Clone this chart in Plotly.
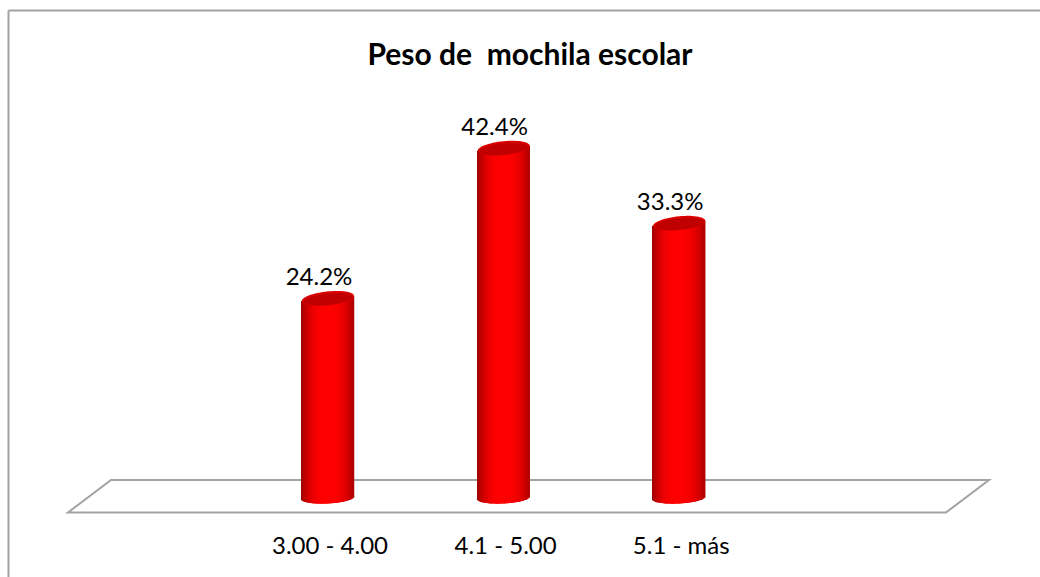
import numpy as np
import plotly.graph_objects as go

# Weight of school backpacks, share of pupils per weight band
categories = ["3.00 - 4.00", "4.1 - 5.00", "5.1 - más"]
percent_values = [24.2, 42.4, 33.3]
percent_labels = ["24.2%", "42.4%", "33.3%"]

FIG_W, FIG_H = 1040, 577
BASELINE_PX = 498     # screen row of the zero level
M_L, M_R, M_B = 68, 94, 64
PLOT_W = FIG_W - M_L - M_R
PLOT_H = FIG_H - M_B
X_PX = 175.6          # pixels per category slot
Y_PX = 8.25           # pixels per percentage point
FIRST_BAR_PX = 328
BAR_W_PX = 52
STRIP_PX = 1
CAP_SEMI_Y = 7.0
CAP_TILT = 2.5
X0 = -(FIRST_BAR_PX - M_L) / X_PX
X1 = X0 + PLOT_W / X_PX
Y0 = -(FIG_H - M_B - BASELINE_PX) / Y_PX
Y1 = Y0 + PLOT_H / Y_PX
GRAY = "#a3a3a3"
FONT = "Lato"


def paper_x(px):
    return (px - M_L) / PLOT_W


def paper_y(py):
    return (FIG_H - M_B - py) / PLOT_H


def strip_colour(u):
    # darkens towards both edges of the cylinder
    k = abs(u) ** 2.6
    left = 1.25 if u < 0 else 1.0
    r = int(255 - 80 * k * left)
    return f"rgb({max(r, 150)},0,0)"


def ellipse_path(cx, cy_value, semi_x_px, semi_y_px, tilt_px, dy_px=0.0):
    pts = []
    for t in np.linspace(0, 2 * np.pi, 61):
        u = np.cos(t)
        v = np.sin(t)
        xd = cx + semi_x_px * u / X_PX
        yd = cy_value + (semi_y_px * v + tilt_px * u + dy_px) / Y_PX
        pts.append(f"{xd:.5f},{yd:.4f}")
    return "M" + " L".join(pts) + " Z"


fig = go.Figure()
shapes = []

# Each cylinder body is a fan of thin bars; bases follow the lower rim,
# tops follow the tilted axis of the cap
n_strips = BAR_W_PX // STRIP_PX
offsets = (np.arange(n_strips) + 0.5) / n_strips * 2 - 1
for i, value in enumerate(percent_values):
    xs = i + offsets * (BAR_W_PX / 2) / X_PX
    bases = (-5.5 * np.sqrt(1 - offsets ** 2) + 1.3 * offsets) / Y_PX
    tops = value + CAP_TILT * offsets / Y_PX
    fig.add_trace(go.Bar(
        x=xs,
        y=tops - bases,
        base=bases,
        width=(STRIP_PX + 0.5) / X_PX,
        marker=dict(color=[strip_colour(u) for u in offsets], line=dict(width=0)),
        cliponaxis=False,
        showlegend=False,
        hoverinfo="skip",
    ))
    # top cap: lighter rim with the darker recessed face
    shapes.append(dict(type="path", xref="x", yref="y", layer="above",
                       path=ellipse_path(i, value, BAR_W_PX / 2, CAP_SEMI_Y, CAP_TILT),
                       fillcolor="#dc0000", line=dict(width=0)))
    shapes.append(dict(type="path", xref="x", yref="y", layer="above",
                       path=ellipse_path(i, value, BAR_W_PX / 2 - 1.5, CAP_SEMI_Y - 1.2, CAP_TILT - 0.2, dy_px=-0.8),
                       fillcolor="#c00000", line=dict(width=0)))

# Value labels above each cylinder
fig.add_trace(go.Scatter(
    x=[i - 9 / X_PX for i in range(len(categories))],
    y=[v + 19 / Y_PX for v in percent_values],
    mode="text",
    text=percent_labels,
    textposition="middle center",
    textfont=dict(family=FONT, size=24, color="#000000"),
    showlegend=False,
    hoverinfo="skip",
))

# 3D floor outline, drawn behind the cylinders
floor = [(68, 512.5), (946, 512.5), (989, 480), (111, 480)]
floor_path = "M" + " L".join(f"{paper_x(a):.5f},{paper_y(b):.5f}" for a, b in floor) + " Z"
shapes.append(dict(type="path", xref="paper", yref="paper", layer="below",
                   path=floor_path, line=dict(color=GRAY, width=2)))

# Chart frame: only the left and top edges fall inside the canvas
for a, b, c, d in [(8.5, 10.5, 8.5, FIG_H), (8.5, 10.5, FIG_W, 10.5)]:
    shapes.append(dict(type="line", xref="paper", yref="paper", layer="below",
                       x0=paper_x(a), y0=paper_y(b), x1=paper_x(c), y1=paper_y(d),
                       line=dict(color=GRAY, width=2)))

fig.update_layout(
    width=FIG_W,
    height=FIG_H,
    margin=dict(l=M_L, r=M_R, t=0, b=M_B, pad=0),
    paper_bgcolor="#ffffff",
    plot_bgcolor="rgba(0,0,0,0)",
    barmode="overlay",
    shapes=shapes,
    title=dict(
        text="<b>Peso de  mochila escolar</b>",
        x=530 / FIG_W, xanchor="center",
        y=1 - 54 / FIG_H, yanchor="middle",
        font=dict(family=FONT, size=30, color="#000000"),
    ),
    xaxis=dict(
        range=[X0, X1],
        tickmode="array",
        tickvals=[i + 2 / X_PX for i in range(len(categories))],
        ticktext=categories,
        ticks="",
        ticklabelstandoff=16,
        tickfont=dict(family=FONT, size=24, color="#000000"),
        showgrid=False,
        zeroline=False,
        showline=False,
    ),
    yaxis=dict(
        range=[Y0, Y1],
        showticklabels=False,
        ticks="",
        showgrid=False,
        zeroline=False,
        showline=False,
    ),
)

fig.write_html("out.html")
